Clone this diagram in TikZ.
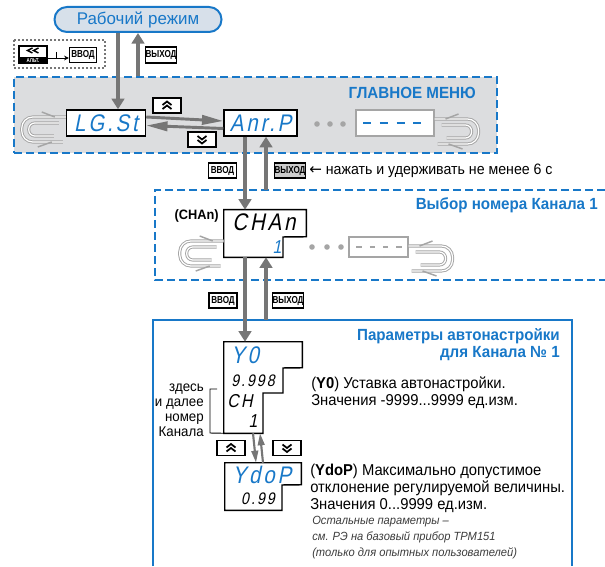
\documentclass[tikz,border=0pt]{standalone}
\usepackage{fontspec}
\setmainfont{Liberation Sans}
\newfontfamily\cond{Liberation Sans}[FakeStretch=0.94]
\newfontfamily\kcond{Liberation Sans}[FakeStretch=0.8]
\newfontfamily\segf{Liberation Sans}[FakeSlant=0.2,FakeStretch=0.85,LetterSpace=12]
\newfontfamily\dvs{DejaVu Sans}
\usetikzlibrary{arrows.meta}
\newdimen\upx \upx=0.75pt
\definecolor{ablue}{RGB}{24,120,200}
\definecolor{mgray}{RGB}{220,221,223}
\definecolor{agray}{RGB}{118,118,118}
\definecolor{lgray}{RGB}{165,165,165}
\definecolor{wfill}{RGB}{215,224,234}
\definecolor{kgray}{RGB}{205,205,205}
\definecolor{itgray}{RGB}{60,60,60}
\newcommand\chevup[1]{%
 \draw[chev] ([shift={(-4.5,-0.5)}]#1.center) -- ++(4.5,-3.5) -- ++(4.5,3.5);
 \draw[chev] ([shift={(-4.5,3.5)}]#1.center) -- ++(4.5,-3.5) -- ++(4.5,3.5);}
\newcommand\chevdown[1]{%
 \draw[chev] ([shift={(-4.5,-3.5)}]#1.center) -- ++(4.5,3.5) -- ++(4.5,-3.5);
 \draw[chev] ([shift={(-4.5,0.5)}]#1.center) -- ++(4.5,3.5) -- ++(4.5,-3.5);}
\newcommand\cycleloop[2]{%
 \begin{scope}[shift={#1},#2]
  \draw[loopl, rounded corners=11\upx] (0,0) -- (-44,0) -- (-44,25) -- (-3,25);
  \draw[loopl, rounded corners=6\upx] (-7,6) -- (-37,6) -- (-37,19) -- (-12,19);
  \draw[barb] (-24,-5) -- (-11,0);
  \draw[barb] (-28,30) -- (-14,25);
 \end{scope}}
\begin{document}
\begin{tikzpicture}[x=0.75pt,y=-0.75pt,
  key/.style={draw=black, line width=1.1pt, fill=white, inner sep=0pt, minimum width=28\upx, minimum height=15\upx, font=\kcond\bfseries\fontsize{7.6}{7.6}\selectfont},
  chev/.style={draw=black, line width=1.3pt},
  dispo/.style={draw=black, line width=1.1pt, fill=white},
  disp/.style={dispo, inner sep=0pt},
  segt/.style={font=\segf\fontsize{18}{18}\selectfont, inner sep=0pt},
  segs/.style={font=\segf\fontsize{12.5}{12.5}\selectfont, inner sep=0pt},
  segm/.style={font=\segf\fontsize{14}{14}\selectfont, inner sep=0pt},
  garrow/.style={draw=agray, line width=3.5pt, -{Triangle[length=8pt,width=9.5pt]}},
  marrow/.style={draw=agray, line width=2.2pt, -{Triangle[length=16pt,width=7pt]}},
  tarrow/.style={draw=agray, line width=1.6pt, -{Triangle[length=9pt,width=5pt]}},
  loopl/.style={draw=lgray, line width=0.7pt, double=white, double distance=0.9pt},
  barb/.style={draw=lgray, line width=1.1pt},
  dashbox/.style={draw=ablue, line width=1.5pt, dash pattern=on 6pt off 3pt},
  head/.style={font=\cond\bfseries\fontsize{12.1}{12.75}\selectfont, text=ablue, inner sep=0pt},
  desc/.style={font=\cond\fontsize{11.8}{12.75}\selectfont, inner sep=0pt},
  itdesc/.style={font=\cond\itshape\fontsize{8.9}{12}\selectfont, text=itgray, inner sep=0pt}]
\useasboundingbox (0,0) rectangle (605,566);

% ---------- working mode ----------
\node[draw=ablue, line width=1.5pt, fill=wfill, rounded corners=9.3pt, minimum width=167\upx, minimum height=25\upx, text=ablue, font=\fontsize{12.7}{12.7}\selectfont] (work) at (138,19.5) {Рабочий режим};

% alt + enter combination
\draw[draw=agray, line width=0.8pt, dash pattern=on 1.5pt off 1.5pt] (14,40) rectangle (105,68);
\node[draw=black, line width=0.9pt, fill=white, minimum width=28\upx, minimum height=17\upx, inner sep=0pt] (alt) at (33,54.5) {};
\fill[black] (alt.south west) rectangle ([yshift=5.2pt]alt.south east);
\node[font=\kcond\bfseries\fontsize{4.2}{4.2}\selectfont, text=white, inner sep=0pt] (altt) at ([yshift=2.5pt]alt.south) {АЛЬТ.};
\draw[line width=1.1pt] ([shift={(-0.5,-6.5)}]alt.center) -- ++(-5,2.5) -- ++(5,2.5);
\draw[line width=1.1pt] ([shift={(5.5,-6.5)}]alt.center) -- ++(-5,2.5) -- ++(5,2.5);
\node[key, minimum width=27\upx] (k0) at (83,55) {ВВОД};
\draw[line width=0.7pt, -{Stealth[length=3.5pt,width=3.5pt]}] (alt.east |- 0,58) -- (k0.west |- 0,58);
\draw[line width=0.7pt] (56,52) -- (56,58);
\node[key, minimum width=30\upx, minimum height=16\upx] (k1) at (161,55) {ВЫХОД};

% ---------- main menu ----------
\node[dashbox, fill=mgray, minimum width=483\upx, minimum height=76\upx, inner sep=0pt] (mm) at (255.5,115) {};
\node[head, anchor=east] (mmt) at (476,93) {ГЛАВНОЕ МЕНЮ};
\node[disp, minimum width=79\upx, minimum height=26\upx, segt, text=ablue] (lgst) at (106,123) {LG.St};
\node[disp, minimum width=73\upx, minimum height=26\upx, segt, text=ablue] (anrp) at (260.5,123) {Anr.P};
\node[disp, draw=lgray, line width=0.8pt, minimum width=78\upx, minimum height=26\upx] (dash1) at (395,123) {};
\draw[ablue, line width=1.6pt, dash pattern=on 6.2pt off 6.3pt] ([xshift=5.8pt]dash1.west) -- ([xshift=-5pt]dash1.east);
\foreach \x in {317,330,343} \fill[lgray] (\x,124) circle[radius=2.1pt];
\cycleloop{(lgst.west |- 0,117)}{}
\cycleloop{(dash1.east |- 0,119)}{xscale=-1}
\node[key] (kup1) at (167,105.5) {};
\chevup{kup1}
\node[key] (kdn1) at (202,139.5) {};
\chevdown{kdn1}
\draw[marrow] (lgst.east |- 0,117) -- (anrp.west |- 0,121);
\draw[marrow] (anrp.west |- 0,128.5) -- (lgst.east |- 0,125.5);

% ---------- vertical connectors ----------
\coordinate (xw1) at (118,0);
\coordinate (xw2) at (138,0);
\coordinate (xa) at (245,0);
\coordinate (xb) at (266,0);
\coordinate (box2top) at (266,190);
\coordinate (box3top) at (266,320);

\draw[garrow] (work.south -| xw1) -- (lgst.north -| xw1);
\draw[garrow] (mm.north -| xw2) -- (work.south -| xw2);

\node[key] (k2) at (222.5,170.5) {ВВОД};
\node[key, minimum width=30\upx, fill=kgray] (k3) at (290,170.5) {ВЫХОД};
\node[font=\cond\fontsize{11.3}{12}\selectfont, inner sep=0pt, anchor=west] (hold) at (309,170.5) {{\dvs ←} нажать и удерживать не менее 6 с};

% ---------- channel selection ----------
\draw[dashbox] (605,190) -- (155,190) -- (155,280) -- (605,280);
\node[head, anchor=east] (b2t) at (598,205) {Выбор номера Канала 1};
\node[font=\cond\bfseries\fontsize{10.2}{10.2}\selectfont, anchor=east, inner sep=0pt] (chanl) at (219,216) {(CHAn)};
\node[inner sep=0pt, minimum width=82\upx, minimum height=47\upx] (chan) at (265,233.5) {};
\filldraw[dispo] (chan.north west) -- (chan.north east) -- ++(0,27) -- (283,237) -- (chan.south -| 283,0) -- (chan.south west) -- cycle;
\node[segt] (chant) at (264,222.5) {CHAn};
\node[segm, text=ablue] (chan1) at (277,247.5) {1};
\cycleloop{(chan.west |- 0,241)}{}
\foreach \x in {312,327,341} \fill[lgray] (\x,247) circle[radius=2.1pt];
\node[draw=lgray, line width=0.8pt, fill=white, minimum width=59\upx, minimum height=20\upx, inner sep=0pt] (dash2) at (378.5,247) {};
\draw[lgray, line width=0.9pt, dash pattern=on 4pt off 6pt] ([xshift=6pt]dash2.west) -- ([xshift=-3pt]dash2.east);
\cycleloop{(dash2.east |- 0,246)}{xscale=-1}

\draw[garrow] (anrp.south -| xa) -- (chan.north -| xa);
\draw[garrow] (box2top) -- (anrp.south -| xb);

\node[key] (k4) at (223,300.5) {ВВОД};
\node[key, minimum width=29\upx] (k5) at (288,300.5) {ВЫХОД};

% ---------- autotune parameters ----------
\draw[ablue, line width=1.3pt] (153,566) -- (153,320) -- (572,320) -- (572,566);
\node[head, anchor=east, align=right] (b3t) at (560,344.5) {Параметры автонастройки\\для Канала № 1};

\node[inner sep=0pt, minimum width=78\upx, minimum height=91\upx] (y0) at (263,387.5) {};
\filldraw[dispo] (y0.north west) -- (y0.north east) -- ++(0,26) -- (283,368) -- (283,393) -- (263,393) -- (y0.south -| 263,0) -- (y0.south west) -- cycle;
\node[segt, text=ablue] (y0a) at (245,355) {Y0};
\node[segs] (y0b) at (253,381) {9.998};
\node[segm] (y0c) at (240,401) {CH};
\node[segm] (y0d) at (253,421) {1};

\draw[garrow] (chan.south -| xa) -- (y0.north -| xa);
\draw[garrow] (box3top) -- (chan.south -| xb);

\node[font=\cond\fontsize{10.6}{11.25}\selectfont, anchor=east, align=right, inner sep=0pt] (note) at (204,410) {здесь\\и далее\\номер\\Канала};
\draw[line width=0.7pt] (217,389) -- (210,389) -- (210,433) -- (y0.south west);

\node[key] (k6) at (231,448) {};
\chevup{k6}
\node[key] (k7) at (287,448) {};
\chevdown{k7}

\node[inner sep=0pt, minimum width=76\upx, minimum height=47\upx] (ydop) at (263,486.5) {};
\filldraw[dispo] (ydop.north west) -- (ydop.north east) -- ++(0,22) -- (282,485) -- (ydop.south -| 282,0) -- (ydop.south west) -- cycle;
\node[segt, text=ablue] (ydopa) at (262,474.5) {YdoP};
\node[segs] (ydopb) at (258,499) {0.99};

\draw[tarrow] (y0.south -| 253,0) -- (ydop.north -| 256,0);
\draw[tarrow] (ydop.north -| 263,0) -- (y0.south -| 260,0);

\node[desc, anchor=base west] (d1) at (311,388) {(\textbf{Y0}) Уставка автонастройки.};
\node[desc, anchor=base west] (d2) at (311,405) {Значения -9999...9999 ед.изм.};
\node[desc, anchor=base west] (d3) at (310,475) {(\textbf{YdoP}) Максимально допустимое};
\node[desc, anchor=base west] (d4) at (310,492) {отклонение регулируемой величины.};
\node[desc, anchor=base west] (d5) at (310,509) {Значения 0...9999 ед.изм.};
\node[itdesc, anchor=base west] (d6) at (312,524) {Остальные параметры –};
\node[itdesc, anchor=base west] (d7) at (312,540) {см. РЭ на базовый прибор ТРМ151};
\node[itdesc, anchor=base west] (d8) at (312,556) {(только для опытных пользователей)};
\end{tikzpicture}
\end{document}
